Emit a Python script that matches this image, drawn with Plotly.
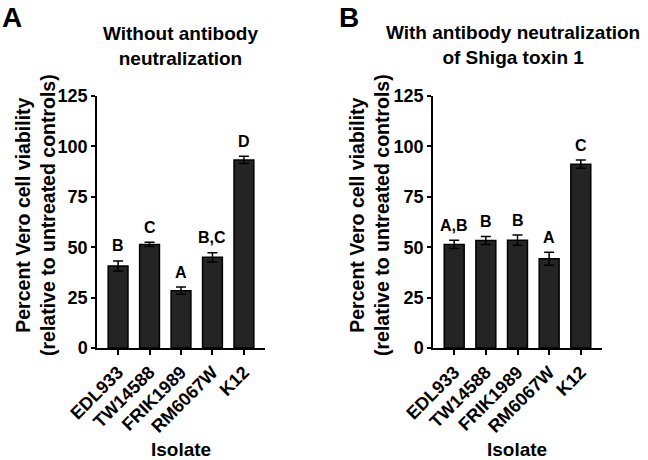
import plotly.graph_objects as go

isolates = ["EDL933", "TW14588", "FRIK1989", "RM6067W", "K12"]

# Panel A: without antibody neutralization
a_values = [40.7, 51.4, 28.4, 45.0, 93.3]
a_errors = [2.5, 1.0, 1.8, 2.3, 1.8]
a_letters = ["B", "C", "A", "B,C", "D"]

# Panel B: with antibody neutralization of Shiga toxin 1
b_values = [51.4, 53.3, 53.5, 44.3, 91.2]
b_errors = [2.0, 2.0, 2.5, 3.2, 2.0]
b_letters = ["A,B", "B", "B", "A", "C"]

y_ticks = [0, 25, 50, 75, 100, 125]

FONT = "Liberation Sans, Arial, Helvetica, sans-serif"
W, H = 648, 460

fig = go.Figure()

panels = [
    ("x", "y", a_values, a_errors, a_letters),
    ("x2", "y2", b_values, b_errors, b_letters),
]
for xa, ya, vals, errs, letters in panels:
    fig.add_trace(go.Bar(
        x=isolates, y=vals, xaxis=xa, yaxis=ya, width=0.63,
        marker=dict(color="#242424", line=dict(color="black", width=1.5)),
        error_y=dict(type="data", array=errs, visible=True,
                     color="black", thickness=1.5, width=5),
        showlegend=False, hoverinfo="skip",
    ))
    for cat, v, e, lab in zip(isolates, vals, errs, letters):
        fig.add_annotation(
            x=cat, y=v + e, xref=xa, yref=ya, text=lab, showarrow=False,
            yanchor="middle", yshift=15,
            font=dict(family=FONT, size=16, color="black", weight="bold"),
        )

dom_a = [97 / W, 265 / W]
dom_b = [433 / W, 602 / W]
dom_y = [112 / H, 364 / H]

xcommon = dict(
    type="category", range=[-0.67, 4.67], showline=True, linecolor="black",
    linewidth=1.5, ticks="outside", ticklen=5, tickwidth=1.5, tickcolor="black",
    tickangle=-45, showgrid=False, zeroline=False, automargin=False,
    tickfont=dict(family=FONT, size=18, color="black", weight="bold"),
)
ycommon = dict(
    range=[0, 125], tickvals=y_ticks, showline=True, linecolor="black",
    linewidth=1.5, ticks="outside", ticklen=4, tickwidth=1.5, tickcolor="black",
    showgrid=False, zeroline=False, automargin=False,
    tickfont=dict(family=FONT, size=18, color="black", weight="bold"),
)

fig.update_layout(
    width=W, height=H,
    margin=dict(l=0, r=0, t=0, b=0, pad=0, autoexpand=False),
    plot_bgcolor="white", paper_bgcolor="white", bargap=0.37,
    showlegend=False,
    xaxis={**xcommon, "domain": dom_a, "anchor": "y"},
    xaxis2={**xcommon, "domain": dom_b, "anchor": "y2"},
    yaxis={**ycommon, "domain": dom_y, "anchor": "x"},
    yaxis2={**ycommon, "domain": dom_y, "anchor": "x2"},
)

tfont = dict(family=FONT, size=19, color="black", weight="bold")
ann = [
    # panel titles
    dict(x=180 / W, y=1 - 46 / H, text="Without antibody<br>neutralization"),
    dict(x=513 / W, y=1 - 45 / H, text="With antibody neutralization<br>of Shiga toxin 1"),
    # x titles
    dict(x=181 / W, y=1 - 449 / H, text="Isolate"),
    dict(x=517 / W, y=1 - 449 / H, text="Isolate"),
]
for a in ann:
    fig.add_annotation(xref="paper", yref="paper", showarrow=False,
                       xanchor="center", yanchor="middle", font=tfont, **a)

for xc in (35 / W, 369 / W):
    fig.add_annotation(xref="paper", yref="paper", showarrow=False,
                       x=xc, y=1 - 215 / H, xanchor="center", yanchor="middle",
                       textangle=-90,
                       font=dict(family=FONT, size=19.5, color="black", weight="bold"),
                       text="Percent Vero cell viability<br>(relative to untreated controls)")

for lab, xl in (("A", 0), ("B", 337 / W)):
    fig.add_annotation(xref="paper", yref="paper", showarrow=False,
                       x=xl, y=1, xanchor="left", yanchor="top", text=lab,
                       font=dict(family=FONT, size=28, color="black", weight="bold"))

fig.write_html("out.html", config={"displayModeBar": False},
               post_script="document.body.style.margin='0';document.body.style.overflow='hidden';")
